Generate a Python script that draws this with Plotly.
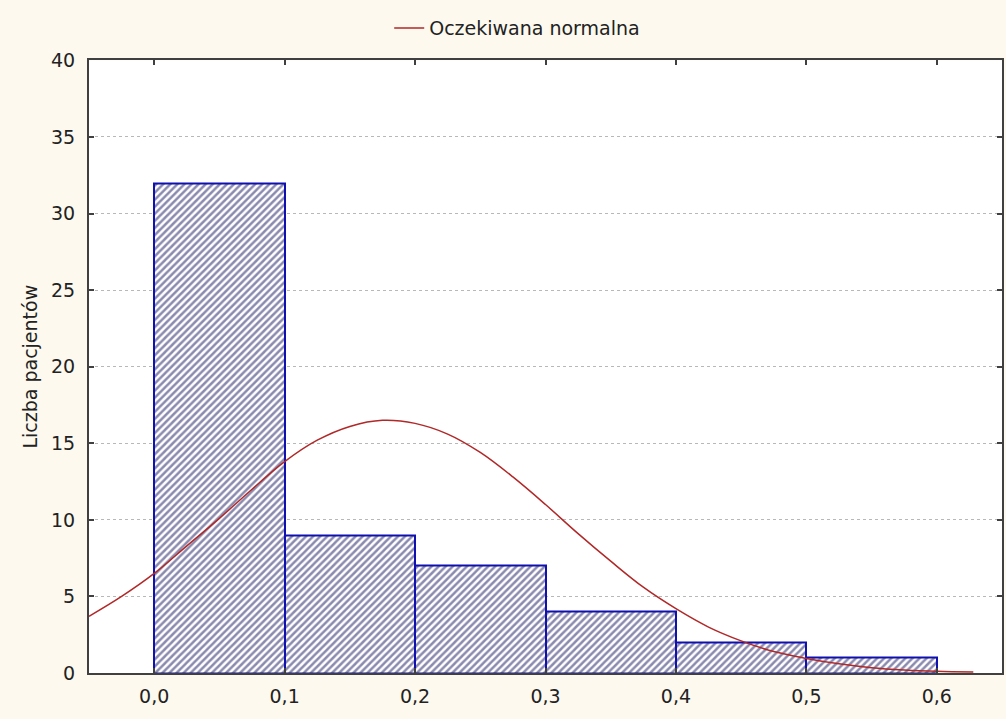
import plotly.graph_objects as go

# Histogram data
bin_left = [0.0, 0.1, 0.2, 0.3, 0.4, 0.5]
bin_width = 0.1
counts = [32, 9, 7, 4, 2, 1]

# Expected normal curve
curve_x = [-0.05, -0.025, 0.0, 0.025, 0.05, 0.075, 0.1, 0.125, 0.15, 0.175, 0.2,
           0.225, 0.25, 0.275, 0.3, 0.325, 0.35, 0.375, 0.4, 0.425, 0.45,
           0.475, 0.5, 0.525, 0.55, 0.575, 0.6, 0.628]
curve_y = [3.7, 5.0, 6.5, 8.3, 10.1, 12.0, 13.8, 15.2, 16.1, 16.5, 16.3,
           15.6, 14.4, 12.8, 11.0, 9.1, 7.3, 5.6, 4.2, 3.0, 2.1,
           1.4, 0.95, 0.6, 0.35, 0.2, 0.11, 0.06]

x_ticks = [0.0, 0.1, 0.2, 0.3, 0.4, 0.5, 0.6]
y_ticks = [0, 5, 10, 15, 20, 25, 30, 35, 40]

legend_name = "Oczekiwana normalna"
y_title = "Liczba pacjentów"

centers = [b + bin_width / 2 for b in bin_left]

fig = go.Figure()
fig.add_trace(go.Bar(
    x=centers, y=counts, width=[bin_width] * len(counts),
    marker=dict(
        color="white",
        line=dict(color="#1010B0", width=2),
        pattern=dict(shape="/", fgcolor="#151560", bgcolor="white",
                     size=5, solidity=0.5),
    ),
    showlegend=False,
    hoverinfo="skip",
))
fig.add_trace(go.Scatter(
    x=curve_x, y=curve_y, mode="lines", line=dict(color="#B02828", width=1.5, shape="spline"),
    name=legend_name,
))

fig.update_layout(
    width=1006, height=719,
    margin=dict(l=89, r=2, t=58, b=46),
    paper_bgcolor="#FDF9EE",
    plot_bgcolor="white",
    separators=",.",
    font=dict(family="DejaVu Sans, sans-serif", size=19, color="#222222"),
    bargap=0,
    showlegend=True,
    legend=dict(orientation="h", x=0.469, xanchor="center", xref="paper",
                y=0.961, yanchor="middle", yref="container",
                bgcolor="rgba(0,0,0,0)", font=dict(size=19)),
    xaxis=dict(range=[-0.05, 0.65], tickvals=x_ticks, tickformat=".1f",
               showgrid=False, zeroline=False,
               showline=True, linecolor="#404040", linewidth=2, mirror="ticks",
               ticks="inside", ticklen=5, tickcolor="#404040", tickwidth=1.5,
               ticklabelstandoff=5),
    yaxis=dict(range=[0, 40], tickvals=y_ticks,
               title=dict(text=y_title, standoff=8, font=dict(size=19)),
               showgrid=True, gridcolor="#B8B8B8", griddash="dot", gridwidth=1,
               zeroline=False,
               showline=True, linecolor="#404040", linewidth=2, mirror="ticks",
               ticks="inside", ticklen=5, tickcolor="#404040", tickwidth=1.5,
               ticklabelstandoff=8),
)

fig.write_html("out.html")
